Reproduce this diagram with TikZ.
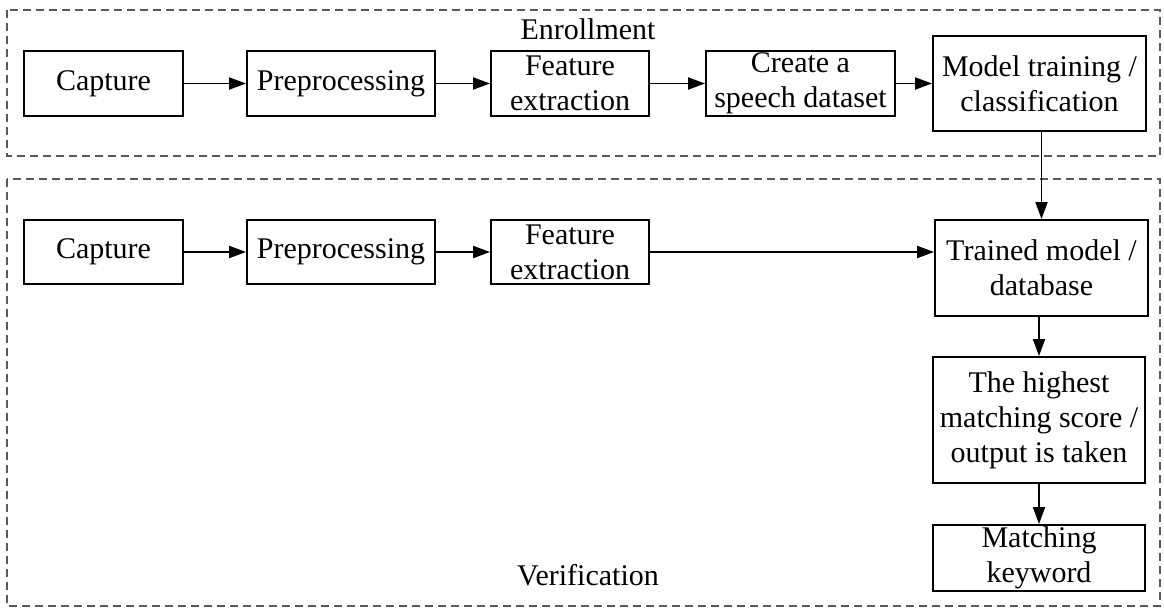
\documentclass[tikz,border=0pt]{standalone}
\usepackage{fontspec}
\setmainfont{Liberation Serif}
\usetikzlibrary{arrows.meta}

\tikzset{
	blk/.style={draw, line width=1.9pt, inner sep=0pt, align=center, font=\fontsize{30}{35}\selectfont},
	flow/.style={line width=1.9pt, -{Triangle[length=17pt, width=12pt]}},
	zone/.style={draw=black!65, dash pattern=on 8pt off 5pt, line width=1.2pt},
	lbl/.style={font=\fontsize{30}{35}\selectfont}
}

\begin{document}
\begin{tikzpicture}[x=1pt, y=-1pt]
			%%%%% START %%%%%
			\useasboundingbox (0,0) rectangle (1164,608);
			
			\draw[zone] (7,10) rectangle (1160,156);
			\draw[zone] (7,179) rectangle (1160,606);
			
			\node[lbl] (enrol) at (588,29) {Enrollment};
			\node[lbl] (verif) at (588,575) {Verification};
			
			% enrollment row
			\node[blk, minimum width=159pt, minimum height=65pt] (cap1) at (103.5,83.5) {Capture};
			\node[blk, minimum width=188pt, minimum height=65pt] (pre1) at (341,83.5) {Preprocessing};
			\node[blk, minimum width=158pt, minimum height=65pt] (feat1) at (570,83.5) {Feature\\extraction};
			\node[blk, minimum width=189pt, minimum height=65pt] (data1) at (800.5,83.5) {Create a\\speech dataset};
			\node[blk, minimum width=213pt, minimum height=95pt] (train1) at (1039.5,83.5) {Model training /\\classification};
			
			\draw[flow] (cap1) -- (pre1);
			\draw[flow] (pre1) -- (feat1);
			\draw[flow] (feat1) -- (data1);
			\draw[flow] (data1) -- (train1);
			
			% verification row
			\node[blk, minimum width=159pt, minimum height=64pt] (cap2) at (103.5,252) {Capture};
			\node[blk, minimum width=188pt, minimum height=64pt] (pre2) at (341,252) {Preprocessing};
			\node[blk, minimum width=158pt, minimum height=64pt] (feat2) at (570,252) {Feature\\extraction};
			
			\node[blk, minimum width=213pt, minimum height=96pt] (model) at (1041.5,268) {Trained model /\\database};
			\node[blk, minimum width=212pt, minimum height=126pt] (score) at (1039,420) {The highest\\matching score /\\output is taken};
			\node[blk, minimum width=212pt, minimum height=66pt] (keyw) at (1039,558) {Matching\\keyword};
			
			\draw[flow] (cap2) -- (pre2);
			\draw[flow] (pre2) -- (feat2);
			\draw[flow] (feat2.east) -- (feat2.east -| model.west);
			\draw[flow] (train1.south -| model.north) -- (model.north);
			\draw[flow] (model.south -| score.north) -- (score.north);
			\draw[flow] (score) -- (keyw);
			
			%%%%% END %%%%%
\end{tikzpicture}
\end{document}
